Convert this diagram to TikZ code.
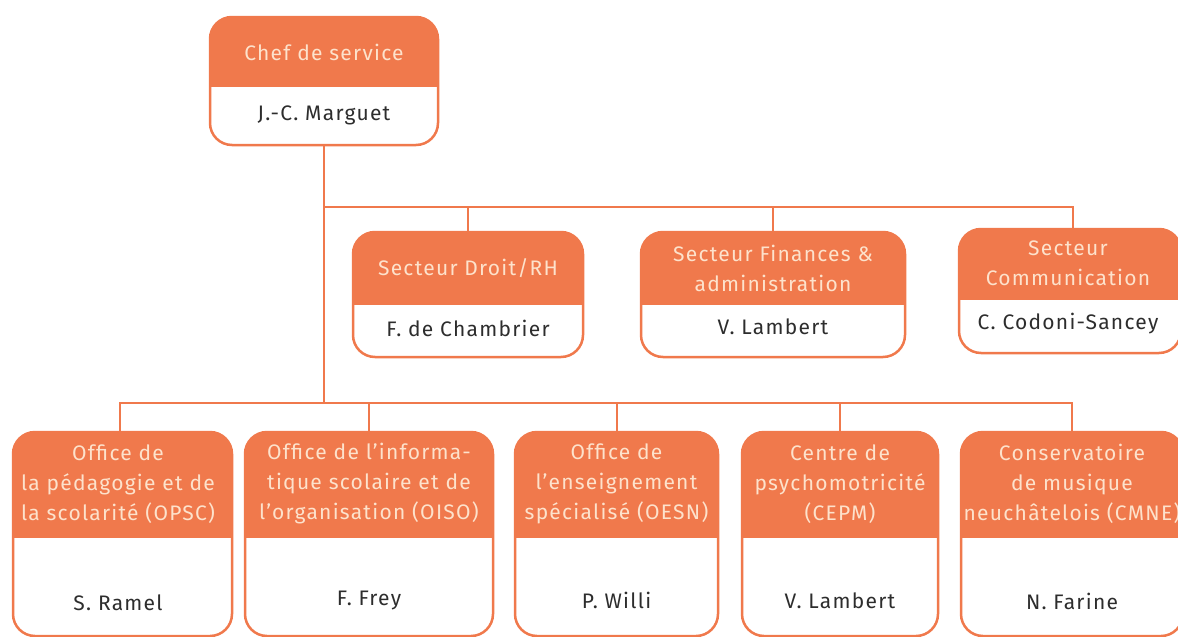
\documentclass[tikz,border=0pt]{standalone}
\usepackage{fontspec}
\setmainfont[LetterSpace=6]{Fira Sans}
\definecolor{orgorange}{RGB}{240,121,76}
\definecolor{orgpeach}{RGB}{253,226,204}
\definecolor{orgtext}{RGB}{45,45,45}
\tikzset{
  unit/.style={draw=orgorange, line width=2.5pt, rounded corners=22pt, fill=white, inner sep=0pt,
    path picture={\fill[orgorange, sharp corners] (path picture bounding box.north west)
      rectangle ([yshift=-#1]path picture bounding box.north east);}},
  title/.style={text=orgpeach, align=center, font=\fontsize{21}{30}\selectfont},
  person/.style={text=orgtext, font=\fontsize{21}{25}\selectfont},
  link/.style={draw=orgorange, line width=2.5pt},
}
\begin{document}
\begin{tikzpicture}[x=1pt, y=-1pt]
  \useasboundingbox (0,0) rectangle (1178,637);
  \coordinate (top) at (324,207);
  \coordinate (bus) at (324,403);

  % connectors
  \draw[link] (324,145) -- (bus);
  \draw[link] (top) -| (1073,229);
  \draw[link] (top -| 468,0) -- (468,232);
  \draw[link] (top -| 773,0) -- (773,232);
  \draw[link] (bus) -| (120,432);
  \draw[link] (bus) -| (1072,432);
  \draw[link] (bus -| 369,0) -- (369,432);
  \draw[link] (bus -| 617,0) -- (617,432);
  \draw[link] (bus -| 840,0) -- (840,432);

  % boxes
  \node[unit=70pt, minimum width=228pt, minimum height=128pt] (chef) at (324,81) {};
  \node[unit=73pt, minimum width=230pt, minimum height=125pt] (droit) at (468,294.5) {};
  \node[unit=73pt, minimum width=264pt, minimum height=125pt] (fin) at (773,294.5) {};
  \node[unit=71pt, minimum width=222pt, minimum height=124pt] (comm) at (1070,291) {};
  \node[unit=106pt, minimum width=219pt, minimum height=204pt] (opsc) at (122.5,534) {};
  \node[unit=106pt, minimum width=248pt, minimum height=204pt] (oiso) at (369,534) {};
  \node[unit=106pt, minimum width=203pt, minimum height=204pt] (oesn) at (616.5,534) {};
  \node[unit=106pt, minimum width=196pt, minimum height=204pt] (cepm) at (840,534) {};
  \node[unit=106pt, minimum width=222pt, minimum height=204pt] (cmne) at (1072,534) {};

  % texts
  \node[title] (chefT) at (324,52) {Chef de service};
  \node[person] (chefP) at (324,115) {J.-C. Marguet};
  \node[title] (droitT) at (468,268) {Secteur Droit/RH};
  \node[person] (droitP) at (468,328) {F. de Chambrier};
  \node[title] (finT) at (773,268) {Secteur Finances \&\\administration};
  \node[person] (finP) at (773,327) {V. Lambert};
  \node[title] (commT) at (1068,263) {Secteur\\Communication};
  \node[person] (commP) at (1068,324) {C. Codoni-Sancey};
  \node[title] (opscT) at (118,484) {Office de\\la pédagogie et de\\la scolarité (OPSC)};
  \node[person] (opscP) at (118,603) {S. Ramel};
  \node[title] (oisoT) at (369,484) {Office de l'informa-\\tique scolaire et de\\l'organisation (OISO)};
  \node[person] (oisoP) at (369,600) {F. Frey};
  \node[title] (oesnT) at (616.5,484) {Office de\\l'enseignement\\spécialisé (OESN)};
  \node[person] (oesnP) at (616.5,600) {P. Willi};
  \node[title] (cepmT) at (840,484) {Centre de\\psychomotricité\\(CEPM)};
  \node[person] (cepmP) at (840,601) {V. Lambert};
  \node[title] (cmneT) at (1072,484) {Conservatoire\\de musique\\neuchâtelois (CMNE)};
  \node[person] (cmneP) at (1072,601) {N. Farine};
\end{tikzpicture}
\end{document}
